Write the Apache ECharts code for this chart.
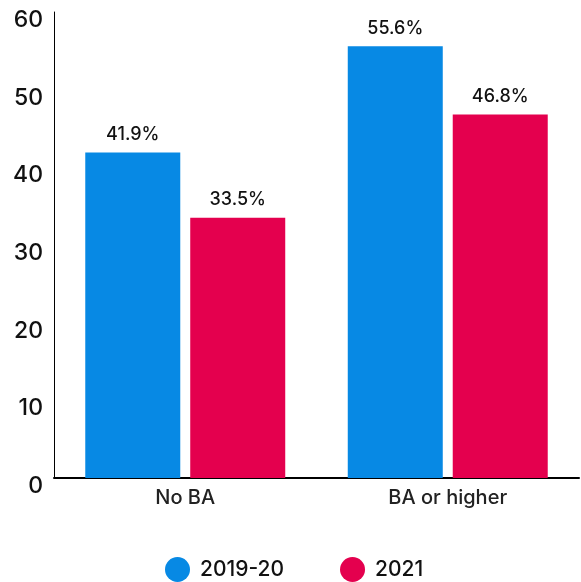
<!DOCTYPE html>
<html>
<head>
<meta charset="utf-8">
<script src="https://cdn.jsdelivr.net/npm/echarts@6/dist/echarts.min.js"></script>
<style>html,body{margin:0;padding:0;background:#fff}#c{width:581px;height:582px}</style>
</head>
<body>
<div id="c"></div>
<script>
var categories = ['No BA', 'BA or higher'];
var seriesNames = ['2019-20', '2021'];
var values2019 = [41.9, 55.6];
var values2021 = [33.5, 46.8];
var yTicks = [0, 10, 20, 30, 40, 50, 60];

var FONT = 'Inter, "Noto Sans", sans-serif';
var chart = echarts.init(document.getElementById('c'), null, {renderer: 'canvas'});
chart.setOption({
  animation: false,
  textStyle: {fontFamily: FONT},
  grid: {left: 54, right: 2, top: 12, bottom: 104, containLabel: false},
  legend: {
    data: seriesNames,
    left: 165,
    top: 557,
    padding: 0,
    icon: 'circle',
    itemWidth: 25,
    itemHeight: 25,
    itemGap: 56,
    textStyle: {fontSize: 21, color: '#111', fontWeight: 500, fontFamily: FONT, padding: [0, 0, 0, 5]}
  },
  xAxis: {
    type: 'category',
    data: categories,
    axisLine: {lineStyle: {color: '#000', width: 2}},
    axisTick: {show: false},
    axisLabel: {fontSize: 20, color: '#222', fontWeight: 500, margin: 10, fontFamily: FONT}
  },
  yAxis: {
    type: 'value',
    min: yTicks[0],
    max: yTicks[yTicks.length - 1],
    interval: 10,
    splitLine: {show: false},
    axisLine: {show: true, lineStyle: {color: '#000', width: 1}},
    axisTick: {show: false},
    axisLabel: {fontSize: 23, color: '#111', fontWeight: 500, margin: 11, verticalAlign: 'top', lineHeight: 16, fontFamily: FONT}
  },
  series: [
    {
      name: seriesNames[0],
      type: 'bar',
      data: values2019,
      barWidth: 95,
      barGap: '10.5%',
      itemStyle: {color: '#0789E4'},
      label: {show: true, position: 'top', distance: 9, fontSize: 18, fontWeight: 500, color: '#111', fontFamily: FONT,
        formatter: function (p) { return p.value.toFixed(1) + '%'; }}
    },
    {
      name: seriesNames[1],
      type: 'bar',
      data: values2021,
      barWidth: 95,
      itemStyle: {color: '#E4004E'},
      label: {show: true, position: 'top', distance: 9, fontSize: 18, fontWeight: 500, color: '#111', fontFamily: FONT,
        formatter: function (p) { return p.value.toFixed(1) + '%'; }}
    }
  ]
});
</script>
</body>
</html>
